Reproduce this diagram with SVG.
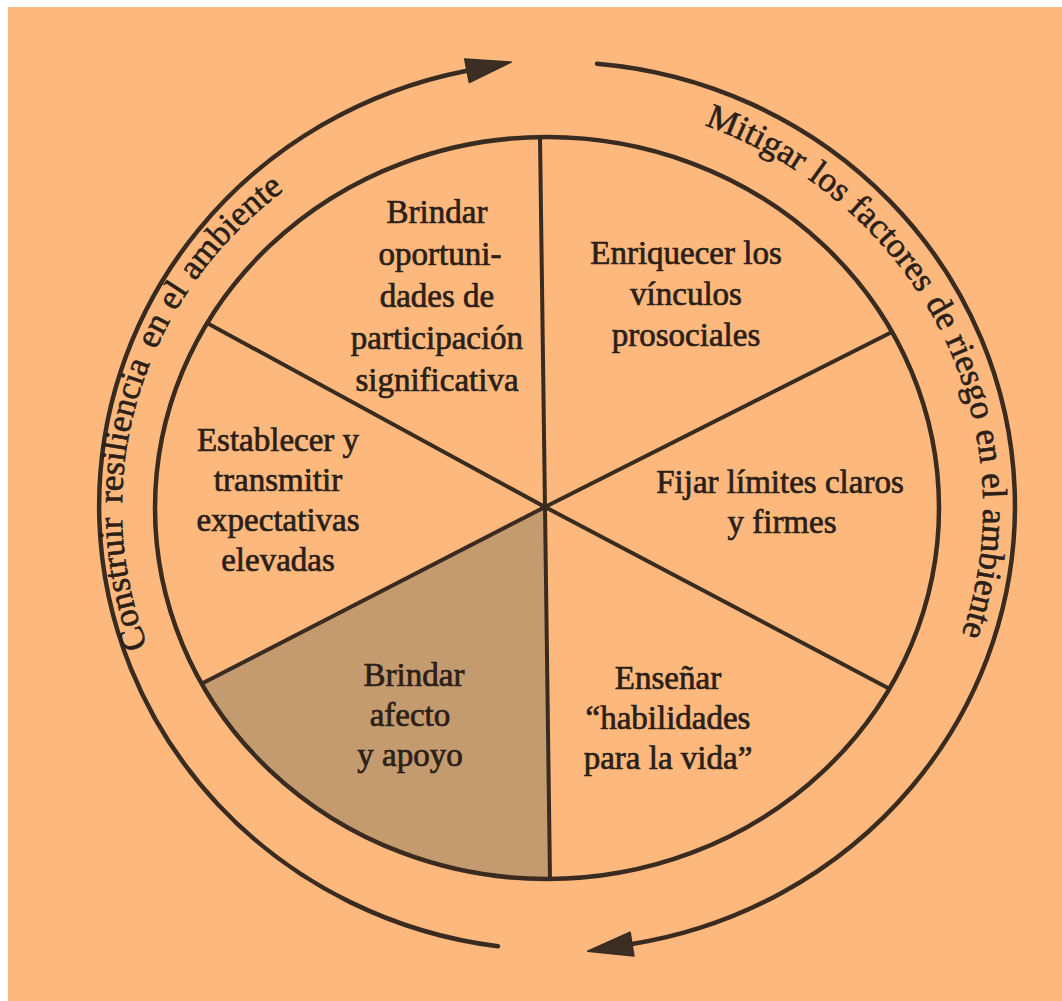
<svg xmlns="http://www.w3.org/2000/svg" width="1062" height="1001" viewBox="0 0 1062 1001">
<style>
.ln{fill:none;stroke:#3a2b20;stroke-width:4.5;stroke-linecap:round}
.sp{fill:none;stroke:#3a2b20;stroke-width:4}
.ah{fill:#3d2e24;stroke:#3a2b20;stroke-width:1.5;stroke-linejoin:round}
.t{font-family:"Liberation Serif","Times New Roman",serif;font-size:33px;fill:#2b2018;stroke:#2b2018;stroke-width:0.7;text-anchor:middle}
.ct{font-family:"Liberation Serif","Times New Roman",serif;font-size:35px;fill:#2b2018;stroke:#2b2018;stroke-width:0.6}
</style>
<defs>
<path id="pl" d="M 147.6 646.2 A 425 404 0 0 1 303.2 177.0"/>
<path id="pr" d="M 704.5 125.2 A 434 410 0 0 1 959.4 641.5"/>
</defs>
<rect x="0" y="0" width="1062" height="1001" fill="#ffffff"/>
<rect x="8" y="7" width="1054" height="994" fill="#fdb97d"/>
<g id="shaded-sector">
<path d="M 545 507 L 203 683 A 392 371 0 0 0 550 879 Z" fill="#c49b6f"/>
</g>
<g id="wheel">
<ellipse cx="547" cy="508" rx="392" ry="371" class="ln"/>
</g>
<g id="connectors">
<line x1="540" y1="137" x2="550" y2="879" class="sp"/>
<line x1="545" y1="507" x2="207" y2="323" class="sp"/>
<line x1="545" y1="507" x2="892" y2="332" class="sp"/>
<line x1="545" y1="507" x2="203" y2="683" class="sp"/>
<line x1="545" y1="507" x2="888" y2="688" class="sp"/>
<path d="M 498 946.3 A 458 444 0 0 1 467 70.7" class="ln"/>
<polygon points="511.2,62.1 464.7,58.9 469.3,82.5" class="ah"/>
<path d="M 597 63.7 A 458 444 0 0 1 632 944" class="ln"/>
<polygon points="587.6,951.2 630.1,932.2 633.9,955.9" class="ah"/>
</g>
<g id="node-participacion">
<text class="t" x="437" y="223">Brindar</text>
<text class="t" x="440" y="265">oportuni-</text>
<text class="t" x="437" y="307">dades de</text>
<text class="t" x="437" y="349">participación</text>
<text class="t" x="437" y="391">significativa</text>
</g>
<g id="node-vinculos">
<text class="t" x="686" y="264">Enriquecer los</text>
<text class="t" x="686" y="305">vínculos</text>
<text class="t" x="686" y="346">prosociales</text>
</g>
<g id="node-expectativas">
<text class="t" x="278" y="451">Establecer y</text>
<text class="t" x="278" y="491">transmitir</text>
<text class="t" x="278" y="531">expectativas</text>
<text class="t" x="278" y="571">elevadas</text>
</g>
<g id="node-limites">
<text class="t" x="780" y="493">Fijar límites claros</text>
<text class="t" x="782" y="533">y firmes</text>
</g>
<g id="node-afecto">
<text class="t" x="414" y="686">Brindar</text>
<text class="t" x="410" y="726">afecto</text>
<text class="t" x="410" y="766">y apoyo</text>
</g>
<g id="node-habilidades">
<text class="t" x="668" y="689">Enseñar</text>
<text class="t" x="668" y="729">“habilidades</text>
<text class="t" x="668" y="769">para la vida”</text>
</g>
<g id="label-construir">
<text class="ct"><textPath href="#pl" startOffset="0">Construir</textPath></text>
<text class="ct"><textPath href="#pl" startOffset="146">resiliencia</textPath></text>
<text class="ct"><textPath href="#pl" startOffset="304">en</textPath></text>
<text class="ct"><textPath href="#pl" startOffset="347">el</textPath></text>
<text class="ct"><textPath href="#pl" startOffset="383">ambiente</textPath></text>
</g>
<g id="label-mitigar">
<text class="ct"><textPath href="#pr" startOffset="0">Mitigar</textPath></text>
<text class="ct"><textPath href="#pr" startOffset="116">los</textPath></text>
<text class="ct"><textPath href="#pr" startOffset="166.5">factores</textPath></text>
<text class="ct"><textPath href="#pr" startOffset="288.5">de</textPath></text>
<text class="ct"><textPath href="#pr" startOffset="331">riesgo</textPath></text>
<text class="ct"><textPath href="#pr" startOffset="427">en</textPath></text>
<text class="ct"><textPath href="#pr" startOffset="470">el</textPath></text>
<text class="ct"><textPath href="#pr" startOffset="505">ambiente</textPath></text>
</g>
</svg>
